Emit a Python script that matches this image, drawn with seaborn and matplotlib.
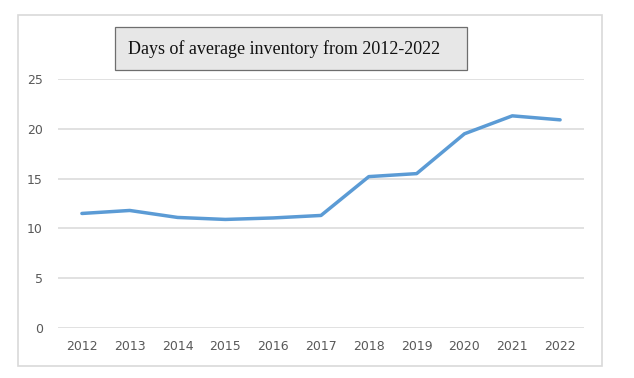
import matplotlib.pyplot as plt
import seaborn as sns
import pandas as pd
from matplotlib.patches import Rectangle

sns.set_theme(style="white")

years = [2012, 2013, 2014, 2015, 2016, 2017, 2018, 2019, 2020, 2021, 2022]
days = [11.5, 11.8, 11.1, 10.9, 11.05, 11.3, 15.2, 15.5, 19.5, 21.3, 20.9]
y_ticks = [0, 5, 10, 15, 20, 25]
title = "Days of average inventory from 2012-2022"

W, H = 634, 378
fig = plt.figure(figsize=(W / 100, H / 100), dpi=100)


def px(x0, y0, x1, y1):
    # pixel box (top-left origin) -> figure fraction rect
    return [x0 / W, 1 - y1 / H, (x1 - x0) / W, (y1 - y0) / H]


# outer chart border
fig.patches.append(Rectangle((18 / W, 1 - 366 / H), (602 - 18) / W, (366 - 15) / H,
                             transform=fig.transFigure, fill=False,
                             edgecolor="#d9d9d9", linewidth=1.2))

ax = fig.add_axes(px(58, 79, 584, 328))
df = pd.DataFrame({"year": years, "days": days})
sns.lineplot(data=df, x="year", y="days", ax=ax, color="#5b9bd5",
             linewidth=2.5, solid_capstyle="round")

ax.set_xlim(years[0] - 0.5, years[-1] + 0.5)
ax.set_ylim(0, 25)
ax.set_xticks(years)
ax.set_xticklabels([str(y) for y in years])
ax.set_yticks(y_ticks)
ax.set_xlabel("")
ax.set_ylabel("")
for s in ax.spines.values():
    s.set_visible(False)
ax.yaxis.grid(True, color="#d9d9d9", linewidth=1.1)
ax.xaxis.grid(False)
ax.set_axisbelow(True)
ax.tick_params(axis="both", length=0, labelsize=9, labelcolor="#595959")
ax.tick_params(axis="y", pad=11)
ax.tick_params(axis="x", pad=9)
ax.patch.set_alpha(0)

# title box
fig.patches.append(Rectangle((115 / W, 1 - 70 / H), (467 - 115) / W, (70 - 27) / H,
                             transform=fig.transFigure, facecolor="#e7e7e7",
                             edgecolor="#6e6e6e", linewidth=0.9, zorder=5))
fig.text(128 / W, 1 - 49 / H, title, family="Liberation Serif", fontsize=13,
         color="#111111", va="center", ha="left", zorder=6)

fig.savefig("out.png", dpi=100, facecolor="white")
